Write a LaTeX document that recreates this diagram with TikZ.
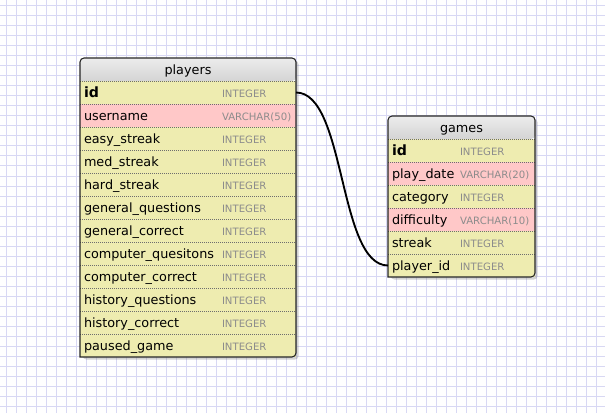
\documentclass[tikz,border=0pt]{standalone}
\usepackage{fontspec}
\setmainfont{DejaVu Sans}
\usepackage{tikz}
\usetikzlibrary{positioning, shadows, backgrounds}

\definecolor{gridline}{RGB}{216,216,244}
\definecolor{rowyellow}{RGB}{238,236,176}
\definecolor{rowpink}{RGB}{255,200,200}
\definecolor{headtop}{RGB}{236,236,236}
\definecolor{headbot}{RGB}{212,212,212}
\definecolor{typegray}{RGB}{140,140,140}
\definecolor{sepgray}{RGB}{110,110,110}

\newcommand{\fieldtype}[1]{{\fontsize{7.6pt}{9pt}\selectfont\color{typegray}#1}}
\newcommand{\keyfield}[1]{{\fontsize{10.6pt}{12pt}\selectfont\bfseries #1}}

\tikzset{
  tablehead/.style={rectangle, minimum height=17.25pt, inner sep=0pt, outer sep=0pt,
    text height=9.5pt, text depth=2.5pt},
  field/.style={rectangle, minimum height=17.25pt, inner xsep=3pt, inner ysep=0pt,
    outer sep=0pt, text height=10pt, text depth=2pt},
  rowsep/.style={sepgray, line width=0.6pt, dash pattern=on 0.75pt off 0.75pt},
  tableline/.style={black!85, line width=0.8pt},
  link/.style={black, line width=1.4pt},
  shadowbox/.style={fill=white, drop shadow={shadow xshift=2pt, shadow yshift=-2pt,
    opacity=0.35}}
}

\begin{document}
\begin{tikzpicture}[x=0.75pt, y=-0.75pt, font=\fontsize{9.6pt}{11pt}\selectfont]
  \useasboundingbox (0,0) rectangle (605,413);

  % players
  \node[tablehead, minimum width=162pt, anchor=north west] (p0) at (80,58) {players};
  \foreach \fname/\ftype/\fcol [count=\i, remember=\i as \j (initially 0)] in {
      \keyfield{id}/INTEGER/rowyellow, username/VARCHAR(50)/rowpink,
      easy\_streak/INTEGER/rowyellow, med\_streak/INTEGER/rowyellow,
      hard\_streak/INTEGER/rowyellow, general\_questions/INTEGER/rowyellow,
      general\_correct/INTEGER/rowyellow, computer\_quesitons/INTEGER/rowyellow,
      computer\_correct/INTEGER/rowyellow, history\_questions/INTEGER/rowyellow,
      history\_correct/INTEGER/rowyellow, paused\_game/INTEGER/rowyellow}
    \node[field, fill=\fcol, below=0pt of p\j] (p\i)
      {\makebox[156pt][l]{\makebox[103.5pt][l]{\fname}\fieldtype{\ftype}}};
  \foreach \i in {0,...,11}
    \draw[rowsep] (p\i.south west) -- (p\i.south east);
  \draw[tableline] (p12.south west) [rounded corners=3pt] -- (p0.north west)
    -- (p0.north east) -- (p12.south east) [sharp corners] -- cycle;

  % games
  \node[tablehead, minimum width=110.25pt, anchor=north west] (g0) at (388,116) {games};
  \foreach \fname/\ftype/\fcol [count=\i, remember=\i as \j (initially 0)] in {
      \keyfield{id}/INTEGER/rowyellow, play\_date/VARCHAR(20)/rowpink,
      category/INTEGER/rowyellow, difficulty/VARCHAR(10)/rowpink,
      streak/INTEGER/rowyellow, player\_id/INTEGER/rowyellow}
    \node[field, fill=\fcol, below=0pt of g\j] (g\i)
      {\makebox[104.25pt][l]{\makebox[51pt][l]{\fname}\fieldtype{\ftype}}};
  \foreach \i in {0,...,5}
    \draw[rowsep] (g\i.south west) -- (g\i.south east);
  \draw[tableline] (g6.south west) [rounded corners=3pt] -- (g0.north west)
    -- (g0.north east) -- (g6.south east) [sharp corners] -- cycle;

  % players.id -> games.player_id
  \draw[link] (p1.east) .. controls +(50,0) and +(-50,0) .. (g6.west);

  \begin{scope}[on background layer]
    \foreach \g in {6,16,...,596}
      \draw[gridline, line width=0.75pt] (\g,0) -- (\g,413);
    \foreach \g in {6,16,...,406}
      \draw[gridline, line width=0.75pt] (0,\g) -- (605,\g);
    \path[shadowbox, rounded corners=3pt] (p0.north west) rectangle (p12.south east);
    \path[shadowbox, rounded corners=3pt] (g0.north west) rectangle (g6.south east);
    \shade[top color=headtop, bottom color=headbot] (p0.south west) [rounded corners=3pt]
      -- (p0.north west) -- (p0.north east) -- (p0.south east) [sharp corners] -- cycle;
    \shade[top color=headtop, bottom color=headbot] (g0.south west) [rounded corners=3pt]
      -- (g0.north west) -- (g0.north east) -- (g0.south east) [sharp corners] -- cycle;
  \end{scope}
\end{tikzpicture}
\end{document}
